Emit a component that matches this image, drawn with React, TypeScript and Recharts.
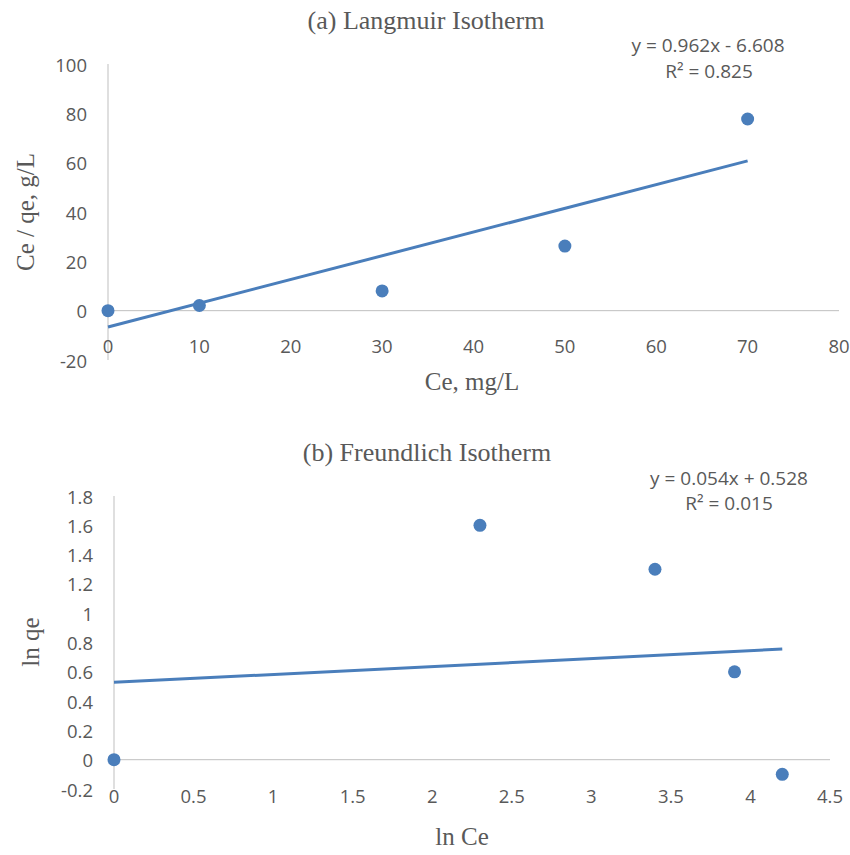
import { ScatterChart, Scatter, XAxis, YAxis, ReferenceLine } from "recharts";

// (a) Langmuir isotherm
const langmuirCe = [0, 10, 30, 50, 70];
const langmuirRatio = [0, 2.1, 8, 26.2, 77.7];
const langmuirTrendX = [0, 70];
const langmuirTrendY = [-6.608, 60.732];
const langmuirXTicks = [0, 10, 20, 30, 40, 50, 60, 70, 80];
const langmuirYTicks = [-20, 0, 20, 40, 60, 80, 100];

// (b) Freundlich isotherm
const freundlichLnCe = [0, 2.3, 3.4, 3.9, 4.2];
const freundlichLnQe = [0, 1.6, 1.3, 0.6, -0.1];
const freundlichTrendX = [0, 4.2];
const freundlichTrendY = [0.528, 0.755];
const freundlichXTicks = [0, 0.5, 1, 1.5, 2, 2.5, 3, 3.5, 4, 4.5];
const freundlichYTicks = [-0.2, 0, 0.2, 0.4, 0.6, 0.8, 1, 1.2, 1.4, 1.6, 1.8];

const BLUE = "#4a7ebb";
const GRID = "#bfbfbf";
const TEXT = "#595959";
const SANS = "'Open Sans', sans-serif";
const SERIF = "'Liberation Serif', 'Times New Roman', serif";

const toPoints = (xs: number[], ys: number[]) => xs.map((x, i) => ({ x, y: ys[i] }));

const Dot = (props: any) => <circle cx={props.cx} cy={props.cy} r={6.5} fill={BLUE} />;
const NoDot = () => <g />;

const makeXTick = (offset: number) => (props: any) => (
  <text
    x={props.x}
    y={props.y + offset}
    textAnchor="middle"
    dominantBaseline="central"
    fill={TEXT}
    fontSize={18.5}
    fontFamily={SANS}
  >
    {props.payload.value}
  </text>
);

const YTick = (props: any) => (
  <text
    x={props.x}
    y={props.y}
    textAnchor="end"
    dominantBaseline="central"
    fill={TEXT}
    fontSize={18.5}
    fontFamily={SANS}
  >
    {props.payload.value}
  </text>
);

interface PanelProps {
  width: number;
  height: number;
  margin: { top: number; right: number; bottom: number; left: number };
  points: { x: number; y: number }[];
  trend: { x: number; y: number }[];
  xTicks: number[];
  yTicks: number[];
  xTickOffset: number;
}

function Panel({ width, height, margin, points, trend, xTicks, yTicks, xTickOffset }: PanelProps) {
  return (
    <ScatterChart width={width} height={height} margin={margin}>
      <XAxis
        type="number"
        dataKey="x"
        domain={[xTicks[0], xTicks[xTicks.length - 1]]}
        ticks={xTicks}
        axisLine={false}
        tickLine={false}
        tickSize={0}
        tickMargin={0}
        height={30}
        interval={0}
        tick={makeXTick(xTickOffset)}
      />
      <YAxis
        type="number"
        dataKey="y"
        domain={[yTicks[0], yTicks[yTicks.length - 1]]}
        ticks={yTicks}
        axisLine={{ stroke: GRID, strokeWidth: 1 }}
        tickLine={false}
        tickSize={0}
        tickMargin={21}
        width={60}
        interval={0}
        tick={<YTick />}
      />
      <ReferenceLine y={0} stroke={GRID} strokeWidth={1} />
      <Scatter
        data={trend}
        line={{ stroke: BLUE, strokeWidth: 3 }}
        shape={NoDot}
        isAnimationActive={false}
      />
      <Scatter data={points} shape={Dot} isAnimationActive={false} />
    </ScatterChart>
  );
}

export default function App() {
  return (
    <div style={{ position: "absolute", left: 0, top: 0, width: 850, height: 855, background: "#fff" }}>
      <div style={{ position: "absolute", left: 0, top: 0 }}>
        <Panel
          width={850}
          height={420}
          margin={{ top: 64, right: 11, bottom: 30, left: 48 }}
          points={toPoints(langmuirCe, langmuirRatio)}
          trend={toPoints(langmuirTrendX, langmuirTrendY)}
          xTicks={langmuirXTicks}
          yTicks={langmuirYTicks}
          xTickOffset={-15}
        />
      </div>
      <div style={{ position: "absolute", left: 0, top: 420 }}>
        <Panel
          width={850}
          height={435}
          margin={{ top: 76, right: 20, bottom: 36, left: 54 }}
          points={toPoints(freundlichLnCe, freundlichLnQe)}
          trend={toPoints(freundlichTrendX, freundlichTrendY)}
          xTicks={freundlichXTicks}
          yTicks={freundlichYTicks}
          xTickOffset={6}
        />
      </div>
      <svg
        width={850}
        height={855}
        style={{ position: "absolute", left: 0, top: 0, pointerEvents: "none" }}
      >
        <g fill={TEXT} fontFamily={SERIF} textAnchor="middle" dominantBaseline="central">
          <text x={426} y={20} fontSize={26}>(a) Langmuir Isotherm</text>
          <text x={472} y={381} fontSize={25}>Ce, mg/L</text>
          <text transform="translate(25 212) rotate(-90)" fontSize={25}>Ce / qe, g/L</text>
          <text x={427} y={452} fontSize={26}>(b) Freundlich Isotherm</text>
          <text x={462} y={836} fontSize={25}>ln Ce</text>
          <text transform="translate(30 642) rotate(-90)" fontSize={25}>ln qe</text>
        </g>
        <g fill={TEXT} fontFamily={SANS} fontSize={19} textAnchor="middle" dominantBaseline="central">
          <text x={708} y={45}>y = 0.962x - 6.608</text>
          <text x={709} y={71}>R² = 0.825</text>
          <text x={729} y={478}>y = 0.054x + 0.528</text>
          <text x={729} y={503}>R² = 0.015</text>
        </g>
      </svg>
    </div>
  );
}
